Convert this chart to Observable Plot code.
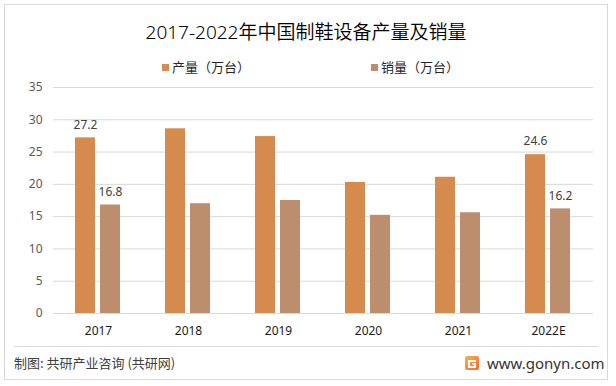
<!DOCTYPE html>
<html>
<head>
<meta charset="utf-8">
<script src="https://cdn.jsdelivr.net/npm/d3@7"></script>
<script src="https://cdn.jsdelivr.net/npm/@observablehq/plot@0.6"></script>
<style>
  html, body { margin: 0; padding: 0; background: #fff; }
  #wrap { position: relative; width: 616px; height: 386px; overflow: hidden; background: #fff;
          font-family: "Noto Sans", "Noto Sans CJK SC", sans-serif; }
  #frame { position: absolute; left: 4px; top: 4px; width: 604px; height: 376px; border: 1px solid #d9d9d9; box-sizing: border-box; }
  #title { position: absolute; left: 0; width: 612px; top: 18px; text-align: center; font-size: 19px; font-weight: 350; line-height: 28px; color: #000; }
  .leg { position: absolute; top: 58px; font-size: 13px; line-height: 18px; color: #262626; font-family: "Noto Sans CJK SC", sans-serif; }
  .leg i { position: absolute; width: 7px; height: 7px; top: 6px; }
  #chart { position: absolute; left: 0; top: 70px; }
  #sep { position: absolute; left: 14px; top: 346px; width: 584px; border-top: 1px solid #d9d9d9; }
  #src { position: absolute; left: 14px; top: 353px; font-size: 13px; line-height: 20px; color: #404040; font-family: "Noto Sans CJK SC", sans-serif; }
  #logo { position: absolute; left: 465px; top: 356px; }
  #url { position: absolute; left: 487px; top: 352px; font-size: 15px; line-height: 22px; color: #333; font-family: "Noto Sans", sans-serif; }
</style>
</head>
<body>
<div id="wrap">
  <div id="frame"></div>
  <div id="title">2017-2022年中国制鞋设备产量及销量</div>
  <div id="legend"></div>
  <div id="chart"></div>
  <div id="sep"></div>
  <div id="src">制图: 共研产业咨询 (共研网)</div>
  <svg id="logo" width="14" height="14" viewBox="0 0 14 14">
    <defs><linearGradient id="lg" x1="0" y1="0" x2="1" y2="1"><stop offset="0" stop-color="#f9b04a"/><stop offset="1" stop-color="#ef6a3a"/></linearGradient></defs>
    <rect x="0" y="0" width="14" height="14" rx="2" fill="url(#lg)"/>
    <path d="M3 4 H11 V6 H5 V10 H9 V8.5 H7 V7 H11 V12 H3 Z" fill="#fff"/>
  </svg>
  <div id="url">www.gonyn.com</div>
</div>
<script>
const years = ["2017", "2018", "2019", "2020", "2021", "2022E"];
const production = [27.2, 28.6, 27.4, 20.3, 21.1, 24.6];
const sales = [16.8, 17.0, 17.5, 15.2, 15.6, 16.2];
const seriesNames = ["产量（万台）", "销量（万台）"];
const seriesColors = ["#D48B4D", "#BC8E6E"];
const labeledYears = ["2017", "2022E"];
const yTicks = [0, 5, 10, 15, 20, 25, 30, 35];

const data = years.flatMap((y, i) => [
  {year: y, series: seriesNames[0], value: production[i]},
  {year: y, series: seriesNames[1], value: sales[i]}
]);

// legend
const legendLeft = [162, 371];
const legend = document.getElementById("legend");
seriesNames.forEach((s, i) => {
  const d = document.createElement("div");
  d.className = "leg";
  d.style.left = (legendLeft[i]) + "px";
  d.style.paddingLeft = "10px";
  d.innerHTML = `<i style="left:0;background:${seriesColors[i]}"></i>${s}`;
  legend.appendChild(d);
});

const chart = Plot.plot({
  width: 616,
  height: 270,
  marginTop: 17,
  marginBottom: 27,
  marginLeft: 53,
  marginRight: 23,
  style: {fontFamily: "'Noto Sans', 'Noto Sans CJK SC', sans-serif", fontSize: "12px", background: "transparent"},
  fx: {domain: years, padding: 0, label: null},
  x: {domain: seriesNames, paddingInner: 0.192, paddingOuter: 0.827, axis: null},
  y: {domain: [0, 35], label: null},
  color: {domain: seriesNames, range: seriesColors},
  marks: [
    Plot.gridY(yTicks, {stroke: "#d9d9d9", strokeOpacity: 1}),
    Plot.axisY(yTicks, {tickSize: 0, tickPadding: 11, label: null, fill: "#595959", fontSize: 12}),
    Plot.axisFx({anchor: "bottom", tickSize: 0, tickPadding: 13, label: null, fill: "#1a1a1a", fontSize: 12}),
    Plot.barY(data, {fx: "year", x: "series", y: "value", fill: "series"}),
    Plot.text(data.filter(d => labeledYears.includes(d.year)), {
      fx: "year", x: "series", y: "value", text: d => d.value.toFixed(1),
      dy: -13, lineAnchor: "middle", fill: "#404040", fontSize: 12
    })
  ]
});
document.getElementById("chart").appendChild(chart);
</script>
</body>
</html>
